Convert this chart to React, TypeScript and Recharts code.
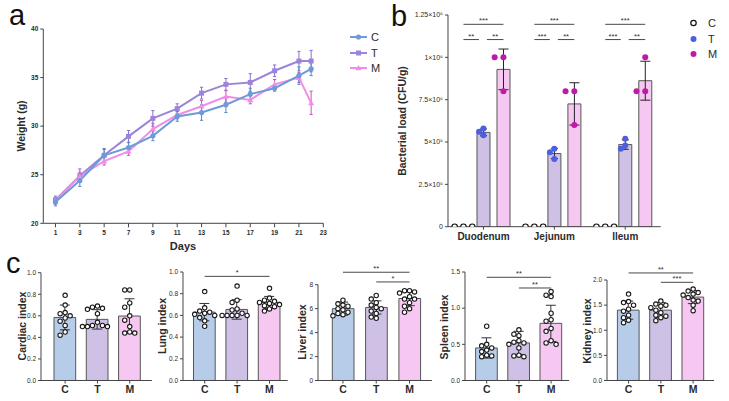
import React from 'react';
import { ComposedChart, LineChart, Line, Bar, Cell, Scatter, XAxis, YAxis, ErrorBar, ReferenceLine } from 'recharts';

const FONT = '"Liberation Sans", Arial, Helvetica, sans-serif';

// ---- panel a: body weight ----
const days = [1, 3, 5, 7, 9, 11, 13, 15, 17, 19, 21, 22];
const weightC = [22.2, 24.4, 27.0, 27.8, 29.0, 31.0, 31.4, 32.2, 33.3, 33.9, 35.2, 35.9];
const weightT = [22.4, 24.9, 27.0, 28.95, 30.8, 31.8, 33.4, 34.3, 34.5, 35.7, 36.7, 36.7];
const weightM = [22.3, 24.85, 26.4, 27.4, 29.7, 31.15, 32.05, 33.05, 32.7, 34.3, 35.0, 32.4];
const weightSdC = [0.4, 0.6, 0.7, 0.5, 0.5, 0.5, 0.8, 0.8, 0.6, 0.3, 0.9, 0.7];
const weightSdT = [0.4, 0.7, 0.6, 0.6, 0.8, 0.5, 0.6, 0.6, 0.9, 0.6, 1.0, 1.1];
const weightSdM = [0.3, 0.4, 0.4, 0.4, 0.6, 0.4, 0.6, 0.6, 0.4, 0.5, 0.5, 1.2];
const dayTicks = [1, 3, 5, 7, 9, 11, 13, 15, 17, 19, 21, 23];
const weightTicks = [20, 25, 30, 35, 40];

// ---- panel b: bacterial load ----
const sites = ['Duodenum', 'Jejunum', 'Ileum'];
const loadC = [0, 0, 0];
const loadT = [557000, 432000, 485000];
const loadM = [929000, 725000, 862000];
const loadSdT = [20000, 30000, 28000];
const loadSdM = [120000, 125000, 115000];
const loadPtsC = [[0, 0, 0], [0, 0, 0], [0, 0, 0]];
const loadPtsT = [[580000, 560000, 540000], [460000, 440000, 400000], [520000, 480000, 460000]];
const loadPtsM = [[1000000, 1000000, 800000], [800000, 800000, 600000], [1000000, 800000, 800000]];
const loadTicks = [0, 250000, 500000, 750000, 1000000, 1250000];
const loadTickLabels = ['0', '2.5×10⁵', '5×10⁵', '7.5×10⁵', '1×10⁶', '1.25×10⁶'];
const loadStarsTop = ['***', '***', '***'];
const loadStarsCT = ['**', '***', '***'];
const loadStarsTM = ['**', '**', '**'];
const loadSigY = [1195000, 1105000];

// ---- panel c: organ indices ----
const groups = ['C', 'T', 'M'];

const cardiacC = [0.79, 0.70, 0.63, 0.62, 0.60, 0.58, 0.55, 0.51, 0.45, 0.42];
const cardiacT = [0.69, 0.68, 0.67, 0.66, 0.62, 0.54, 0.51, 0.50, 0.50, 0.51, 0.50];
const cardiacM = [0.84, 0.84, 0.72, 0.68, 0.60, 0.56, 0.50, 0.45, 0.44, 0.44];
const cardiacMean = [0.585, 0.567, 0.598];
const cardiacSd = [0.115, 0.09, 0.16];

const lungC = [0.82, 0.67, 0.64, 0.63, 0.62, 0.61, 0.60, 0.58, 0.55, 0.50];
const lungT = [0.87, 0.74, 0.72, 0.66, 0.65, 0.62, 0.60, 0.60, 0.60, 0.60, 0.60];
const lungM = [0.85, 0.76, 0.74, 0.73, 0.72, 0.71, 0.70, 0.69, 0.68, 0.66, 0.64];
const lungMean = [0.63, 0.655, 0.72];
const lungSd = [0.08, 0.09, 0.055];

const liverC = [6.7, 6.4, 6.3, 6.2, 6.0, 5.9, 5.7, 5.6, 5.5, 5.4];
const liverT = [7.1, 6.8, 6.5, 6.3, 6.1, 6.0, 5.8, 5.6, 5.3, 5.2];
const liverM = [7.5, 7.5, 7.4, 7.3, 7.0, 6.8, 6.8, 6.5, 6.2, 6.0, 5.7];
const liverMean = [6.0, 6.1, 6.85];
const liverSd = [0.55, 0.55, 0.6];

const spleenC = [0.75, 0.50, 0.48, 0.45, 0.42, 0.40, 0.35, 0.34, 0.33];
const spleenT = [0.70, 0.64, 0.62, 0.55, 0.53, 0.52, 0.50, 0.45, 0.35, 0.34, 0.33];
const spleenM = [1.23, 1.18, 1.16, 0.93, 0.84, 0.82, 0.72, 0.68, 0.55, 0.52, 0.50];
const spleenMean = [0.45, 0.52, 0.79];
const spleenSd = [0.14, 0.16, 0.25];

const kidneyC = [1.72, 1.57, 1.55, 1.50, 1.42, 1.38, 1.30, 1.25, 1.20, 1.15];
const kidneyT = [1.58, 1.52, 1.50, 1.48, 1.45, 1.40, 1.35, 1.30, 1.28, 1.25, 1.19];
const kidneyM = [1.82, 1.78, 1.75, 1.72, 1.70, 1.65, 1.60, 1.58, 1.50, 1.39];
const kidneyMean = [1.40, 1.40, 1.66];
const kidneySd = [0.18, 0.15, 0.13];

const COL_C = '#6d9bd7';
const COL_T = '#9b84da';
const COL_M = '#f08de8';
const FILL_C = '#b7cce9';
const FILL_T = '#cec1e5';
const FILL_M = '#f5c7f1';
const DOT_T = '#4e5ee2';
const DOT_M = '#c019aa';
const INK = '#2b2b2b';

// simple beeswarm: returns horizontal pixel offsets
function swarm(vals: number[], pxPerUnit: number, step: number, minDist: number) {
  const order = vals.map((_, i) => i).sort((a, b) => vals[b] - vals[a]);
  const placed: { x: number; y: number }[] = [];
  const out = vals.map(() => 0);
  for (const i of order) {
    const y = vals[i] * pxPerUnit;
    for (let k = 0; k < 30; k++) {
      const off = k === 0 ? 0 : (k % 2 ? -1 : 1) * Math.ceil(k / 2) * step;
      if (placed.every((p) => Math.hypot(p.x - off, p.y - y) >= minDist)) {
        placed.push({ x: off, y });
        out[i] = off;
        break;
      }
    }
  }
  return out;
}

function VLabel({ text, x, y, size = 10.5 }: { text: string; x: number; y: number; size?: number }) {
  return (
    <div style={{ position: 'absolute', left: x, top: y, transform: 'translate(-50%, -50%) rotate(-90deg)', whiteSpace: 'nowrap', fontWeight: 700, fontSize: size, color: INK }}>
      {text}
    </div>
  );
}

function PanelLetter({ text, x, y }: { text: string; x: number; y: number }) {
  return <div style={{ position: 'absolute', left: x, top: y, fontSize: 29, lineHeight: '22px', color: '#111' }}>{text}</div>;
}

// ---------------- panel a ----------------
const weightRows = days.map((d, i) => ({
  day: d, C: weightC[i], T: weightT[i], M: weightM[i], sdC: weightSdC[i], sdT: weightSdT[i], sdM: weightSdM[i],
}));

const markC = (p: any) => <circle key={`mc${p.index}`} cx={p.cx} cy={p.cy} r={2.6} fill={COL_C} />;
const markT = (p: any) => <rect key={`mt${p.index}`} x={p.cx - 2.5} y={p.cy - 2.5} width={5} height={5} fill={COL_T} />;
const markM = (p: any) => (
  <polygon key={`mm${p.index}`} points={`${p.cx},${p.cy - 3} ${p.cx - 3},${p.cy + 2.3} ${p.cx + 3},${p.cy + 2.3}`} fill={COL_M} />
);

function WeightPanel() {
  const tick = { fontSize: 6.5, fill: INK, fontWeight: 700 };
  return (
    <div style={{ position: 'absolute', left: 0, top: 0 }}>
      <LineChart width={330} height={245} data={weightRows} margin={{ top: 29, right: 6.7, bottom: 0, left: 0 }}>
        <XAxis dataKey="day" type="number" domain={[0, 23]} ticks={dayTicks} height={21.7} tick={tick} tickSize={4} tickMargin={3} stroke="#444" allowDataOverflow />
        <YAxis type="number" domain={[20, 40]} ticks={weightTicks} width={43.3} tick={tick} tickSize={3} tickMargin={2} stroke="#444" allowDataOverflow />
        <Line dataKey="T" stroke={COL_T} strokeWidth={2} dot={markT} activeDot={false} isAnimationActive={false}>
          <ErrorBar dataKey="sdT" direction="y" width={1.6} stroke="#8a6fd0" strokeWidth={1} />
        </Line>
        <Line dataKey="M" stroke={COL_M} strokeWidth={2} dot={markM} activeDot={false} isAnimationActive={false}>
          <ErrorBar dataKey="sdM" direction="y" width={1.6} stroke="#c855c0" strokeWidth={1} />
        </Line>
        <Line dataKey="C" stroke={COL_C} strokeWidth={2} dot={markC} activeDot={false} isAnimationActive={false}>
          <ErrorBar dataKey="sdC" direction="y" width={1.6} stroke="#5a88c8" strokeWidth={1} />
        </Line>
      </LineChart>
    </div>
  );
}

function WeightLegend() {
  const rows = [
    { name: 'C', color: COL_C, shape: 'circle' },
    { name: 'T', color: COL_T, shape: 'square' },
    { name: 'M', color: COL_M, shape: 'triangle' },
  ];
  return (
    <>
      {rows.map((r, i) => (
        <div key={r.name} style={{ position: 'absolute', left: 349, top: 30 + i * 15.5, height: 14, display: 'flex', alignItems: 'center' }}>
          <svg width={20} height={14}>
            <line x1={1} y1={7} x2={18} y2={7} stroke={r.color} strokeWidth={2} />
            {r.shape === 'circle' && <circle cx={9.5} cy={7} r={2.6} fill={r.color} />}
            {r.shape === 'square' && <rect x={7} y={4.5} width={5} height={5} fill={r.color} />}
            {r.shape === 'triangle' && <polygon points="9.5,4 6.5,9.3 12.5,9.3" fill={r.color} />}
          </svg>
          <span style={{ fontSize: 11, marginLeft: 2, color: INK }}>{r.name}</span>
        </div>
      ))}
    </>
  );
}

// ---------------- panel b ----------------
const B_LEFT = 395;
const B_PLOT_L = 448;
const B_PLOT_R = 660.7;
const B_TOP = 15;
const B_BOTTOM = 226.7;
const B_BAR = 13;
const B_GAP = 7;

function LoadPanel() {
  const band = (B_PLOT_R - B_PLOT_L) / sites.length;
  const pxPerUnit = (B_BOTTOM - B_TOP) / loadTicks[loadTicks.length - 1];
  const barOff = (k: number) => (k - 1) * (B_BAR + B_GAP);
  const rows = sites.map((s, i) => ({ site: s, C: loadC[i], T: loadT[i], M: loadM[i], sdT: loadSdT[i], sdM: loadSdM[i] }));
  const pts = (sets: number[][], k: number) =>
    sets.flatMap((vals, i) => {
      const offs = swarm(vals, pxPerUnit, 4.4, 4.6);
      return vals.map((v, j) => ({ x: i + 0.5 + (barOff(k) + offs[j]) / band, y: v }));
    });
  const xs = (i: number, px: number) => i + 0.5 + px / band;
  const tick = { fontSize: 7, fill: INK };
  const sig = (key: string, x1: number, x2: number, y: number, text: string) => (
    <ReferenceLine key={key} xAxisId="num" segment={[{ x: x1, y }, { x: x2, y }]} stroke="#333" strokeWidth={0.9} ifOverflow="visible"
      label={{ value: text, position: 'top', offset: 1, fontSize: 7.5, fill: INK }} />
  );
  return (
    <div style={{ position: 'absolute', left: B_LEFT, top: 0 }}>
      <ComposedChart width={B_PLOT_R - B_LEFT + 2} height={B_BOTTOM + 22} data={rows} margin={{ top: B_TOP, right: 2, bottom: 0, left: 0 }} barSize={B_BAR} barGap={B_GAP}>
        <XAxis xAxisId="cat" dataKey="site" height={22} tick={{ fontSize: 10, fontWeight: 700, fill: INK }} tickSize={3} tickMargin={3} stroke="#444" />
        <XAxis xAxisId="num" dataKey="x" type="number" domain={[0, 3]} hide allowDataOverflow />
        <YAxis type="number" domain={[0, 1250000]} ticks={loadTicks} width={B_PLOT_L - B_LEFT} tick={tick} tickSize={3} tickMargin={2} stroke="#444"
          tickFormatter={(v: number) => loadTickLabels[loadTicks.indexOf(v)]} allowDataOverflow />
        <Bar xAxisId="cat" dataKey="C" fill={FILL_C} stroke="#555" isAnimationActive={false} />
        <Bar xAxisId="cat" dataKey="T" fill={FILL_T} stroke="#555" strokeWidth={1} isAnimationActive={false}>
          <ErrorBar dataKey="sdT" width={3.5} stroke="#222" strokeWidth={1} />
        </Bar>
        <Bar xAxisId="cat" dataKey="M" fill={FILL_M} stroke="#555" strokeWidth={1} isAnimationActive={false}>
          <ErrorBar dataKey="sdM" width={5} stroke="#222" strokeWidth={1} />
        </Bar>
        <Scatter xAxisId="num" data={pts(loadPtsC, 0)} dataKey="y" isAnimationActive={false}
          shape={(p: any) => <circle cx={p.cx} cy={p.cy} r={2.7} fill="#fff" stroke="#111" strokeWidth={1.2} />} />
        <Scatter xAxisId="num" data={pts(loadPtsT, 1)} dataKey="y" isAnimationActive={false}
          shape={(p: any) => <circle cx={p.cx} cy={p.cy} r={3} fill={DOT_T} />} />
        <Scatter xAxisId="num" data={pts(loadPtsM, 2)} dataKey="y" isAnimationActive={false}
          shape={(p: any) => <circle cx={p.cx} cy={p.cy} r={3} fill={DOT_M} />} />
        {sites.flatMap((_, i) => [
          sig(`top${i}`, xs(i, barOff(0)), xs(i, barOff(2)), loadSigY[0], loadStarsTop[i]),
          sig(`ct${i}`, xs(i, barOff(0)), xs(i, barOff(1) - 4.5), loadSigY[1], loadStarsCT[i]),
          sig(`tm${i}`, xs(i, barOff(1) + 3.5), xs(i, barOff(2)), loadSigY[1], loadStarsTM[i]),
        ])}
      </ComposedChart>
    </div>
  );
}

function LoadLegend() {
  const rows = [
    { name: 'C', fill: '#fff', stroke: '#111' },
    { name: 'T', fill: DOT_T, stroke: 'none' },
    { name: 'M', fill: DOT_M, stroke: 'none' },
  ];
  return (
    <>
      {rows.map((r, i) => (
        <div key={r.name} style={{ position: 'absolute', left: 687, top: 16 + i * 15.5, height: 14, display: 'flex', alignItems: 'center' }}>
          <svg width={14} height={14}>
            <circle cx={6.5} cy={7} r={r.stroke === 'none' ? 3 : 2.7} fill={r.fill} stroke={r.stroke} strokeWidth={1.2} />
          </svg>
          <span style={{ fontSize: 11, marginLeft: 7, color: INK }}>{r.name}</span>
        </div>
      ))}
    </>
  );
}

// ---------------- panel c ----------------
const C_BASE = 380.5;
const C_TOP = 250;

type Sig = [number, number, number, string];

type OrganProps = {
  label: string; labelX: number; labelY: number;
  axisX: number; plotTop: number; yMax: number; ticks: number[]; digits: number;
  band: number; padL: number; padR: number;
  means: number[]; sds: number[]; dotsC: number[]; dotsT: number[]; dotsM: number[];
  sigs: Sig[];
};

function OrganPanel(p: OrganProps) {
  const plotW = 3 * p.band + p.padL + p.padR;
  const pxPerUnit = (C_BASE - p.plotTop) / p.yMax;
  const yAxisW = 30;
  const sets = [p.dotsC, p.dotsT, p.dotsM];
  const dots = sets.flatMap((vals, gi) => {
    const offs = swarm(vals, pxPerUnit, 5.0, 4.7);
    return vals.map((v, k) => ({ x: gi + 0.5 + offs[k] / p.band, y: v }));
  });
  const bars = groups.map((g, i) => ({ g, mean: p.means[i], sd: p.sds[i] }));
  const fills = [FILL_C, FILL_T, FILL_M];
  return (
    <>
      <div style={{ position: 'absolute', left: p.axisX - yAxisW, top: C_TOP }}>
        <ComposedChart width={yAxisW + plotW + 2} height={C_BASE - C_TOP + 22} data={bars}
          margin={{ top: p.plotTop - C_TOP, right: 2, bottom: 0, left: 0 }}>
          <XAxis xAxisId="cat" dataKey="g" height={22} padding={{ left: p.padL, right: p.padR }} tick={{ fontSize: 10.5, fontWeight: 700, fill: INK }}
            tickSize={3} tickMargin={2} stroke="#444" />
          <XAxis xAxisId="num" dataKey="x" type="number" domain={[0, 3]} padding={{ left: p.padL, right: p.padR }} hide allowDataOverflow />
          <YAxis type="number" domain={[0, p.yMax]} ticks={p.ticks} width={yAxisW} tick={{ fontSize: 6.5, fill: INK }} tickSize={3} tickMargin={2}
            stroke="#444" tickFormatter={(v: number) => v.toFixed(p.digits)} allowDataOverflow />
          <Bar xAxisId="cat" dataKey="mean" barSize={21.7} stroke="#555" strokeWidth={1} isAnimationActive={false}>
            {bars.map((b, i) => <Cell key={b.g} fill={fills[i]} />)}
            <ErrorBar dataKey="sd" width={5} stroke="#333" strokeWidth={1} />
          </Bar>
          <Scatter xAxisId="num" data={dots} dataKey="y" isAnimationActive={false}
            shape={(s: any) => <circle cx={s.cx} cy={s.cy} r={2.2} fill="#fff" stroke="#1a1a1a" strokeWidth={1.1} />} />
          {p.sigs.map(([a, b, y, text], i) => (
            <ReferenceLine key={i} xAxisId="num" segment={[{ x: a + 0.5, y }, { x: b + 0.5, y }]} stroke="#333" strokeWidth={0.9} ifOverflow="visible"
              label={{ value: text, position: 'top', offset: 1, fontSize: 7.5, fill: INK }} />
          ))}
        </ComposedChart>
      </div>
      <VLabel text={p.label} x={p.labelX} y={p.labelY} />
    </>
  );
}

const organs: OrganProps[] = [
  { label: 'Cardiac index', labelX: 21.7, labelY: 326, axisX: 40.7, plotTop: 272.7, yMax: 1, ticks: [0, 0.2, 0.4, 0.6, 0.8, 1], digits: 1,
    band: 32.3, padL: 8, padR: 6, means: cardiacMean, sds: cardiacSd, dotsC: cardiacC, dotsT: cardiacT, dotsM: cardiacM, sigs: [] },
  { label: 'Lung index', labelX: 161.7, labelY: 326, axisX: 183.3, plotTop: 272, yMax: 1, ticks: [0, 0.2, 0.4, 0.6, 0.8, 1], digits: 1,
    band: 32.4, padL: 5.5, padR: 2, means: lungMean, sds: lungSd, dotsC: lungC, dotsT: lungT, dotsM: lungM, sigs: [[0, 2, 0.96, '*']] },
  { label: 'Liver index', labelX: 302.3, labelY: 332, axisX: 317.7, plotTop: 284.7, yMax: 8, ticks: [0, 2, 4, 6, 8], digits: 0,
    band: 33.3, padL: 8.3, padR: 5.7, means: liverMean, sds: liverSd, dotsC: liverC, dotsT: liverT, dotsM: liverM,
    sigs: [[0, 2, 9.04, '**'], [1, 2, 8.23, '*']] },
  { label: 'Spleen index', labelX: 444, labelY: 326.5, axisX: 465, plotTop: 272, yMax: 1.5, ticks: [0, 0.5, 1, 1.5], digits: 1,
    band: 32.2, padL: 5.6, padR: 2, means: spleenMean, sds: spleenSd, dotsC: spleenC, dotsT: spleenT, dotsM: spleenM,
    sigs: [[0, 2, 1.427, '**'], [1, 2, 1.279, '**']] },
  { label: 'Kidney index', labelX: 587, labelY: 331, axisX: 606.7, plotTop: 280, yMax: 2, ticks: [0, 0.5, 1, 1.5, 2], digits: 1,
    band: 32.3, padL: 5.4, padR: 4.8, means: kidneyMean, sds: kidneySd, dotsC: kidneyC, dotsT: kidneyT, dotsM: kidneyM,
    sigs: [[0, 2, 2.14, '**'], [1, 2, 1.954, '***']] },
];

export default function App() {
  return (
    <div style={{ position: 'absolute', left: 0, top: 0, width: 729, height: 401, background: '#fff', fontFamily: FONT, overflow: 'hidden' }}>
      <PanelLetter text="a" x={9} y={4} />
      <WeightPanel />
      <VLabel text="Weight (g)" x={21} y={126} />
      <div style={{ position: 'absolute', left: 183, top: 246, transform: 'translate(-50%, -50%)', fontWeight: 700, fontSize: 11, color: INK }}>Days</div>
      <WeightLegend />

      <PanelLetter text="b" x={391} y={5} />
      <LoadPanel />
      <VLabel text="Bacterial load (CFU/g)" x={402} y={121} />
      <LoadLegend />

      <PanelLetter text="c" x={6} y={252} />
      {organs.map((o) => <OrganPanel key={o.label} {...o} />)}
    </div>
  );
}
